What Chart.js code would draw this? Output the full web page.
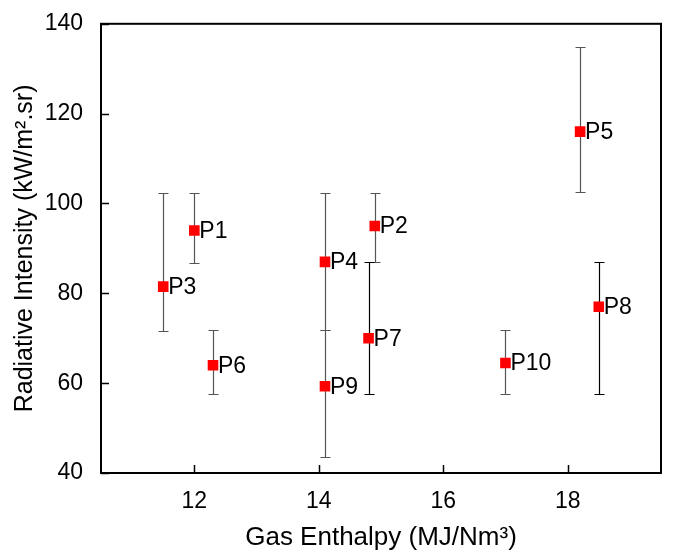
<!DOCTYPE html>
<html>
<head>
<meta charset="utf-8">
<script src="https://cdn.jsdelivr.net/npm/chart.js@4/dist/chart.umd.min.js"></script>
<style>
  html, body { margin: 0; padding: 0; background: #fff; }
  #wrap { width: 673px; height: 557px; }
</style>
</head>
<body>
<div id="wrap"><canvas id="grafico" width="673" height="557"></canvas></div>
<script>
// dados
const pontos = ['P1', 'P2', 'P3', 'P4', 'P5', 'P6', 'P7', 'P8', 'P9', 'P10'];
const entalpia = [12.0, 14.9, 11.5, 14.1, 18.2, 12.3, 14.8, 18.5, 14.1, 17.0];
const intensidade = [94.0, 95.0, 81.5, 87.0, 116.0, 64.0, 70.0, 77.0, 59.3, 64.5];
const erroMin = [86.7, 87.0, 71.6, 71.9, 102.5, 57.6, 57.6, 57.6, 43.6, 57.6];
const erroMax = [102.3, 102.3, 102.3, 102.4, 134.8, 71.9, 87.0, 87.0, 71.9, 71.9];
const corErro = ['#555', '#555', '#555', '#555', '#555', '#555', '#000', '#000', '#555', '#555'];
const xTicks = [12, 14, 16, 18];
const yTicks = [40, 60, 80, 100, 120, 140];

const fonte = "'Liberation Sans', Arial, sans-serif";

// plugin para barras de erro, rotulos, ticks internos e moldura
const extras = {
    id: 'extras',
    beforeDatasetsDraw(chart) {
        const ctx = chart.ctx;
        const x = chart.scales.x;
        const y = chart.scales.y;
        ctx.save();
        ctx.lineWidth = 1.2;
        for (let i = 0; i < pontos.length; i++) {
            const px = Math.round(x.getPixelForValue(entalpia[i])) + 0.5;
            const y1 = Math.round(y.getPixelForValue(erroMin[i])) + 0.5;
            const y2 = Math.round(y.getPixelForValue(erroMax[i])) + 0.5;
            ctx.strokeStyle = corErro[i];
            ctx.beginPath();
            ctx.moveTo(px, y1); ctx.lineTo(px, y2);
            ctx.moveTo(px - 5, y1); ctx.lineTo(px + 5, y1);
            ctx.moveTo(px - 5, y2); ctx.lineTo(px + 5, y2);
            ctx.stroke();
        }
        ctx.restore();
    },
    afterDatasetsDraw(chart) {
        const ctx = chart.ctx;
        const x = chart.scales.x;
        const y = chart.scales.y;
        const area = chart.chartArea;
        ctx.save();
        // rotulos
        ctx.fillStyle = '#000';
        ctx.font = '23px ' + fonte;
        ctx.textAlign = 'left';
        ctx.textBaseline = 'middle';
        for (let i = 0; i < pontos.length; i++) {
            const px = x.getPixelForValue(entalpia[i]);
            const py = y.getPixelForValue(intensidade[i]);
            ctx.fillText(pontos[i], px + 5, py + 1);
        }
        // moldura
        ctx.strokeStyle = '#000';
        ctx.lineWidth = 2;
        ctx.strokeRect(area.left, area.top, area.right - area.left, area.bottom - area.top);
        // ticks internos
        ctx.lineWidth = 1.5;
        ctx.beginPath();
        xTicks.forEach(function (v) {
            const px = Math.round(x.getPixelForValue(v)) + 0.5;
            ctx.moveTo(px, area.bottom); ctx.lineTo(px, area.bottom - 8);
        });
        yTicks.forEach(function (v) {
            const py = Math.round(y.getPixelForValue(v)) + 0.5;
            ctx.moveTo(area.left, py); ctx.lineTo(area.left + 8, py);
        });
        ctx.stroke();
        ctx.restore();
    }
};

const dados = {
    datasets: [{
        label: 'Radiative Intensity',
        data: entalpia.map(function (v, i) { return { x: v, y: intensidade[i] }; }),
        pointStyle: 'rect',
        pointRadius: 7.5,
        pointHoverRadius: 7.5,
        backgroundColor: '#ff0000',
        borderColor: '#ff0000',
        borderWidth: 0,
        showLine: false
    }]
};

const config = {
    type: 'scatter',
    data: dados,
    options: {
        responsive: false,
        animation: false,
        events: [],
        layout: { padding: { left: 0, right: 12, top: 23, bottom: 0 } },
        plugins: {
            legend: { display: false },
            tooltip: { enabled: false }
        },
        scales: {
            x: {
                type: 'linear',
                min: 10.5,
                max: 19.5,
                afterBuildTicks: function (scale) {
                    scale.ticks = xTicks.map(function (v) { return { value: v }; });
                },
                afterFit: function (scale) { scale.height = 84; },
                grid: { display: false },
                border: { display: true, color: '#000', width: 2 },
                ticks: {
                    color: '#000',
                    font: { family: fonte, size: 23 },
                    padding: 7,
                    maxRotation: 0
                },
                title: {
                    display: true,
                    text: 'Gas Enthalpy (MJ/Nm³)',
                    color: '#000',
                    font: { family: fonte, size: 26 },
                    padding: { top: 10, bottom: 4 }
                }
            },
            y: {
                type: 'linear',
                min: 40,
                max: 140,
                afterBuildTicks: function (scale) {
                    scale.ticks = yTicks.map(function (v) { return { value: v }; });
                },
                afterFit: function (scale) { scale.width = 101; },
                grid: { display: false },
                border: { display: true, color: '#000', width: 2 },
                ticks: {
                    color: '#000',
                    font: { family: fonte, size: 23 },
                    padding: 10
                },
                title: {
                    display: true,
                    text: 'Radiative Intensity (kW/m².sr)',
                    color: '#000',
                    font: { family: fonte, size: 25 },
                    padding: { top: 10, bottom: 4 }
                }
            }
        }
    },
    plugins: [extras]
};

const ctx = document.getElementById('grafico');
const meuGrafico = new Chart(ctx, config);
</script>
</body>
</html>
